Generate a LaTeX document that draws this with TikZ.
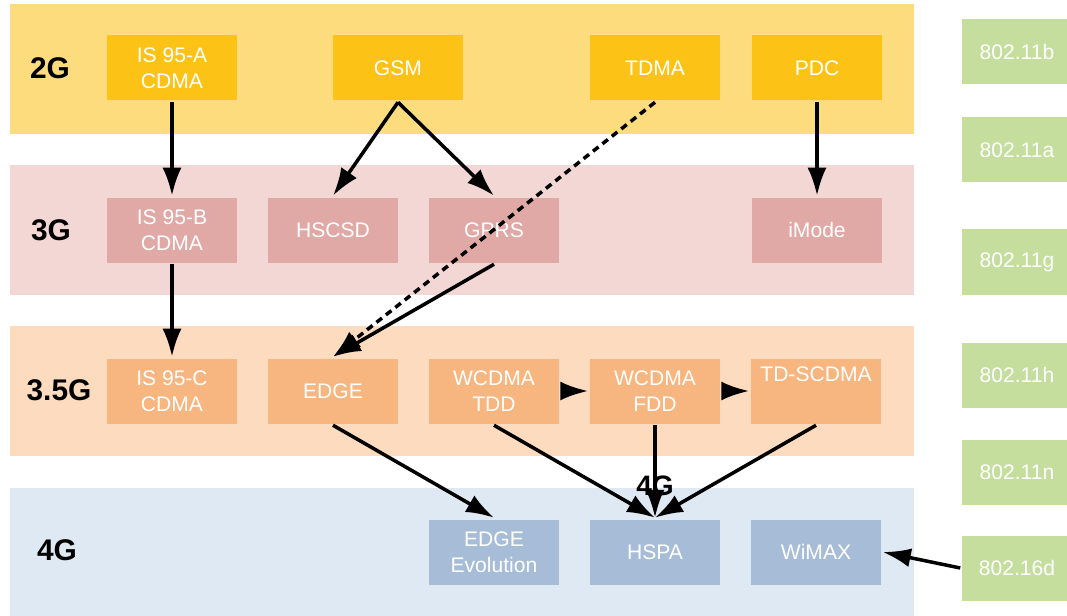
\documentclass[tikz,border=0pt]{standalone}
\usepackage{fontspec}
\setmainfont{Liberation Sans}
\usetikzlibrary{arrows.meta, positioning}
\definecolor{band2g}{HTML}{FDDC7D}
\definecolor{box2g}{HTML}{FCC216}
\definecolor{band3g}{HTML}{F2D7D5}
\definecolor{box3g}{HTML}{E0A9A6}
\definecolor{band35g}{HTML}{FCDBBE}
\definecolor{box35g}{HTML}{F7B57F}
\definecolor{band4g}{HTML}{DFE9F3}
\definecolor{box4g}{HTML}{A7BDD7}
\definecolor{wifigreen}{HTML}{C5DE9D}
\tikzstyle{tech}=[rectangle, minimum width=2.6cm, minimum height=1.3cm, inner sep=0pt, text=white, align=center, font=\fontsize{12}{15}\selectfont]
\tikzstyle{t2g}=[tech, fill=box2g]
\tikzstyle{t3g}=[tech, fill=box3g]
\tikzstyle{t35g}=[tech, fill=box35g]
\tikzstyle{t4g}=[tech, fill=box4g]
\tikzstyle{wifi}=[tech, fill=wifigreen, minimum width=2.2cm]
\tikzstyle{gen}=[font=\fontsize{17}{20}\selectfont\bfseries]

\begin{document}
\begin{tikzpicture}[>={Latex[length=5.6mm,width=3.8mm]}, x=0.2mm, y=-0.2mm, line width=2pt]
    \useasboundingbox (0,0) rectangle (1067,616);
    % generation bands
    \fill[band2g] (10,4) rectangle (914,134);
    \fill[band3g] (10,165) rectangle (914,295);
    \fill[band35g] (10,326) rectangle (914,456);
    \fill[band4g] (10,488) rectangle (914,616);
    \node[gen] (l2g) at (50,68) {2G};
    \node[gen] (l3g) at (51,230) {3G};
    \node[gen] (l35g) at (59,390) {3.5G};
    \node[gen] (l4g) at (57,550) {4G};
    % 2G
    \node[t2g] (is95a) at (172,68) {IS 95-A\\CDMA};
    \node[t2g] (gsm) at (398,68) {GSM};
    \node[t2g] (tdma) at (655,68) {TDMA};
    \node[t2g, right of=tdma, node distance=3.24cm] (pdc) {PDC};
    % 3G
    \node[t3g, below of=is95a, node distance=3.24cm] (is95b) {IS 95-B\\CDMA};
    \node[t3g, right of=is95b, node distance=3.22cm] (hscsd) {HSCSD};
    \node[t3g, right of=hscsd, node distance=3.22cm] (gprs) {GPRS};
    \node[t3g, below of=pdc, node distance=3.24cm] (imode) {iMode};
    % 3.5G
    \node[t35g, below of=is95b, node distance=3.22cm] (is95c) {IS 95-C\\CDMA};
    \node[t35g, right of=is95c, node distance=3.22cm] (edge) {EDGE};
    \node[t35g, right of=edge, node distance=3.22cm] (tdd) {WCDMA\\TDD};
    \node[t35g, right of=tdd, node distance=3.22cm] (fdd) {WCDMA\\FDD};
    \node[t35g, right of=fdd, node distance=3.22cm] (tdscdma) {TD-SCDMA\\\strut};
    % 4G
    \node[t4g, below of=tdd, node distance=3.22cm] (evo) {EDGE\\Evolution};
    \node[t4g, right of=evo, node distance=3.22cm] (hspa) {HSPA};
    \node[t4g, right of=hspa, node distance=3.22cm] (wimax) {WiMAX};
    % wireless lan
    \node[wifi] (w11b) at (1017,52) {802.11b};
    \node[wifi] (w11a) at (1017,150) {802.11a};
    \node[wifi] (w11g) at (1017,262) {802.11g};
    \node[wifi] (w11h) at (1017,375) {802.11h};
    \node[wifi] (w11n) at (1017,472) {802.11n};
    \node[wifi] (w16d) at (1017,568) {802.16d};
    \draw[->] (is95a) -- (is95b);
    \draw[->] (gsm.south) -- (hscsd.north);
    \draw[->] (gsm.south) -- (gprs.north);
    \draw[->, dash pattern=on 1.4mm off 1mm] (tdma.south) -- (edge.north);
    \draw[->] (gprs.south) -- (edge.north);
    \draw[->] (pdc) -- (imode);
    \draw[->] (is95b) -- (is95c);
    \draw[->] (tdd) -- (fdd);
    \draw[->] (fdd) -- (tdscdma);
    \draw[->] (edge.south) -- (evo.north);
    \draw[->] (tdd.south) -- (hspa.north);
    \draw[->] (fdd) -- (hspa);
    \draw[->] (tdscdma.south) -- (hspa.north);
    \draw[->] (w16d.west) -- (wimax.east);
    \node[font=\fontsize{16}{18}\selectfont\bfseries] (hspa4g) at (655,486) {4G};
\end{tikzpicture}
\end{document}
